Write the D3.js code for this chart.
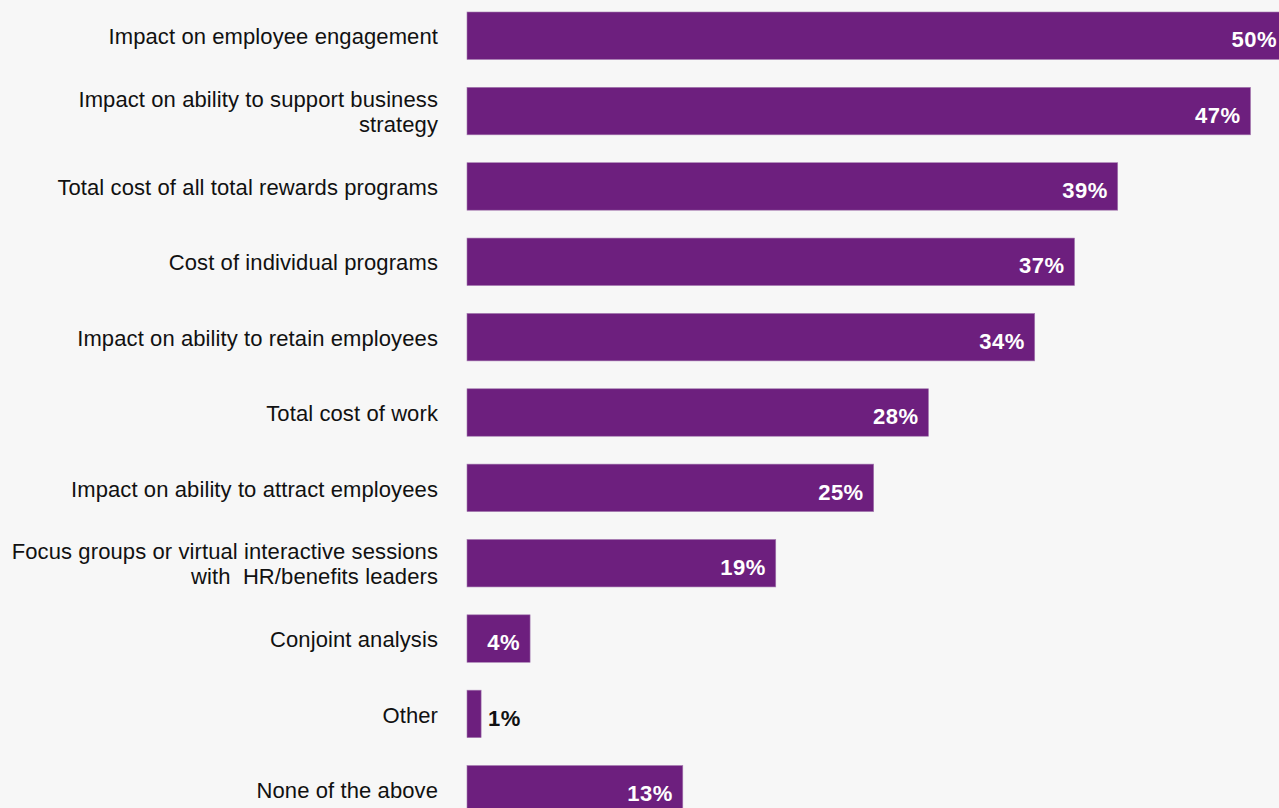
<!DOCTYPE html>
<html>
<head>
<meta charset="utf-8">
<script src="https://cdn.jsdelivr.net/npm/d3@7"></script>
<style>
  html, body { margin: 0; padding: 0; background: #f7f7f7; overflow: hidden; }
  text { font-family: 'Liberation Sans', Arial, sans-serif; white-space: pre; }
</style>
</head>
<body>
<div id="chart"></div>
<script>
const categories = [
  'Impact on employee engagement',
  'Impact on ability to support business|strategy',
  'Total cost of all total rewards programs',
  'Cost of individual programs',
  'Impact on ability to retain employees',
  'Total cost of work',
  'Impact on ability to attract employees',
  'Focus groups or virtual interactive sessions|with  HR/benefits leaders',
  'Conjoint analysis',
  'Other',
  'None of the above'
]
const values = [50.2, 47.2, 39.2, 36.6, 34.2, 27.8, 24.5, 18.6, 3.8, 0.85, 13.0]
const valueLabels = ['50%', '47%', '39%', '37%', '34%', '28%', '25%', '19%', '4%', '1%', '13%']

const width = 1279
const height = 808
const barLeft = 467
const labelRight = 438

const svg = d3
  .select('#chart')
  .append('svg')
  .attr('width', width)
  .attr('height', height)

svg.append('rect').attr('width', width).attr('height', height).attr('fill', '#f7f7f7')

const xPositionScale = d3.scaleLinear().domain([0, 50]).range([barLeft, barLeft + 830])

const yPositionScale = d3
  .scaleBand()
  .domain(categories)
  .range([12, 813])
  .paddingInner(0.37)
  .paddingOuter(0)

const rows = categories.map((c, i) => ({ name: c, value: values[i], label: valueLabels[i] }))

// bars
svg
  .selectAll('.bar')
  .data(rows)
  .enter()
  .append('rect')
  .attr('class', 'bar')
  .attr('x', barLeft)
  .attr('y', d => yPositionScale(d.name))
  .attr('width', d => xPositionScale(d.value) - barLeft)
  .attr('height', yPositionScale.bandwidth())
  .attr('fill', '#6d1f7e')
  .attr('stroke', '#a57bb0')
  .attr('stroke-width', 0.6)

// category labels, one text per line so wrapped labels stay apart
const lineHeight = 25

rows.forEach(d => {
  const lines = d.name.split('|')
  const cy = yPositionScale(d.name) + yPositionScale.bandwidth() / 2
  svg
    .selectAll(null)
    .data(lines)
    .enter()
    .append('text')
    .attr('class', 'cat')
    .attr('text-anchor', 'end')
    .attr('font-size', 22)
    .attr('letter-spacing', 0.1)
    .attr('fill', '#111')
    .attr('x', labelRight)
    .attr('y', (line, i) => cy + (i - (lines.length - 1) / 2) * lineHeight + 1)
    .attr('dy', '0.35em')
    .text(line => line)
})

// value labels
const inside = d => xPositionScale(d.value) - barLeft > 40

svg
  .selectAll('.val')
  .data(rows)
  .enter()
  .append('text')
  .attr('class', 'val')
  .attr('font-size', 22)
  .attr('font-weight', 'bold')
  .attr('letter-spacing', 0.5)
  .attr('dy', '0.35em')
  .attr('y', d => yPositionScale(d.name) + yPositionScale.bandwidth() / 2 + 4)
  .attr('text-anchor', d => (inside(d) ? 'end' : 'start'))
  .attr('x', d => {
    const end = xPositionScale(d.value)
    if (!inside(d)) return end + 7
    return Math.min(end - 10, width - 2)
  })
  .attr('fill', d => (inside(d) ? '#fff' : '#111'))
  .text(d => d.label)
</script>
</body>
</html>
